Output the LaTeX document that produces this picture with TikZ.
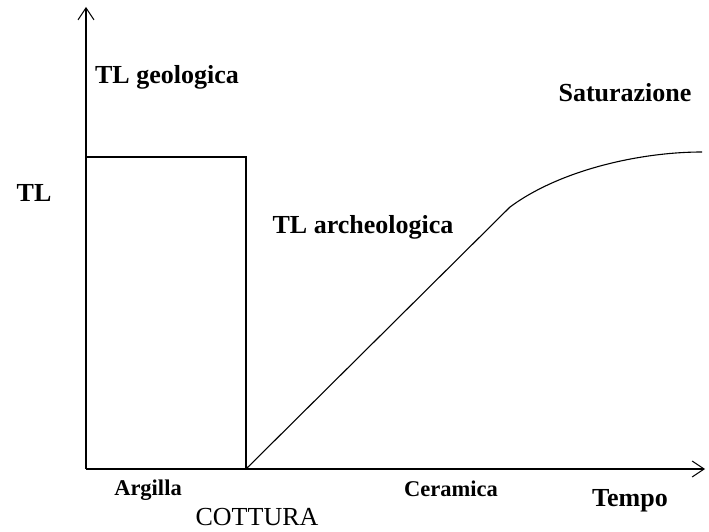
\documentclass[tikz,border=0pt]{standalone}
\usepackage{fontspec}
\setmainfont{Liberation Serif}
\usetikzlibrary{arrows.meta}
\begin{document}
\begin{tikzpicture}[x=1pt,y=-1pt,
  axis/.style={line width=1.2pt,-{Straight Barb[length=12pt,width=16pt,line width=1pt]}},
  curve/.style={line width=1.1pt},
  lbl/.style={inner sep=0pt,font=\fontsize{26}{28}\selectfont\bfseries},
  small/.style={inner sep=0pt,font=\fontsize{22.5}{24}\selectfont\bfseries},
  big/.style={inner sep=0pt,font=\fontsize{26}{28}\selectfont}]
\useasboundingbox (0,0) rectangle (709,532);
\coordinate (O) at (86,469);
\coordinate (ytip) at (86,7);
\coordinate (xtip) at (705,469);
\coordinate (rtl) at (86,157);
\coordinate (rtr) at (246,157);
\coordinate (rbr) at (246,469);
\coordinate (knee) at (510,207);
\coordinate (sat) at (702,152);
\draw[axis] (O) -- (ytip);
\draw[axis] (O) -- (xtip);
\draw[curve] (rtl) -- (rtr) -- (rbr);
\draw[curve] (rbr) -- (knee) .. controls (560,170) and (640,152) .. (sat);
\node[lbl] (geo) at (167,77) {TL geologica};
\node[lbl] (satl) at (625,93) {Saturazione};
\node[lbl] (tl) at (34,193) {TL};
\node[lbl] (arch) at (363,227) {TL archeologica};
\node[small] (arg) at (148,490) {Argilla};
\node[small] (cer) at (451,489) {Ceramica};
\node[lbl] (tempo) at (630,501) {Tempo};
\node[big] (cott) at (257,517) {COTTURA};
\end{tikzpicture}
\end{document}
